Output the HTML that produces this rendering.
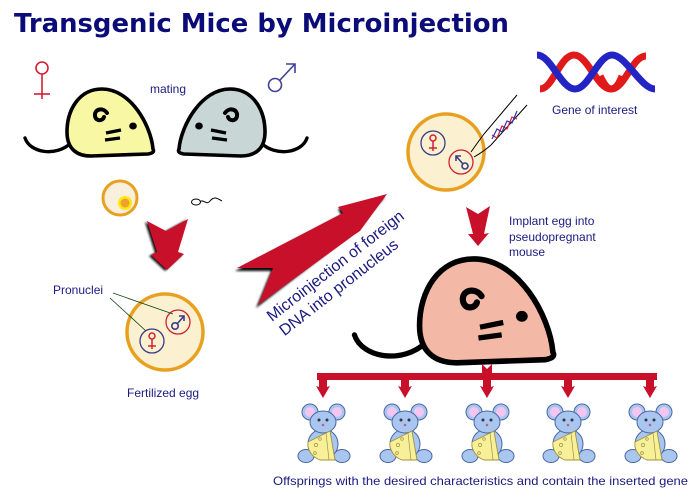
<!DOCTYPE html>
<html><head><meta charset="utf-8"><style>
html,body{margin:0;padding:0;background:#fff;}
svg{display:block;}
text{font-family:"Liberation Sans",Arial,sans-serif;fill:#1a1a80;}
</style></head><body>
<svg width="700" height="491" viewBox="0 0 700 491" xmlns="http://www.w3.org/2000/svg">
<defs>
<filter id="blur" x="-10%" y="-10%" width="120%" height="120%"><feGaussianBlur stdDeviation="1"/></filter>
<g id="mouse">
  <path d="M25,138 C30,153 56,157 71,143" fill="none" stroke="#000" stroke-width="3.4" stroke-linecap="round"/>
  <path d="M153,149 C151,126 131,89 102,89 C79,89 67,110 67,132 C67,149 77,156 91,156 L148,154 C154,153 154,151 153,149 Z" stroke="#000" stroke-width="3.6" stroke-linejoin="round"/>
  <path d="M107,113 C103,107 94,109 95,116 C96,122 103,121 104,117" fill="none" stroke="#000" stroke-width="4" stroke-linecap="round"/>
  <ellipse cx="133" cy="126" rx="3.8" ry="3.5" fill="#000"/>
  <line x1="106" y1="133" x2="121" y2="130" stroke="#000" stroke-width="3.4"/>
  <line x1="105" y1="140" x2="120" y2="138" stroke="#000" stroke-width="3.4"/>
</g>
<g id="baby">
  <circle cx="-13" cy="412" r="8" fill="#a8c6f0" stroke="#4a68a0" stroke-width="1"/>
  <circle cx="-13" cy="412" r="5" fill="#f2c6f0"/>
  <circle cx="14" cy="412" r="8" fill="#a8c6f0" stroke="#4a68a0" stroke-width="1"/>
  <circle cx="14" cy="412" r="5" fill="#f2c6f0"/>
  <ellipse cx="0" cy="444" rx="15" ry="15" fill="#a8c6f0" stroke="#4a68a0" stroke-width="1"/>
  <ellipse cx="-17" cy="456" rx="8" ry="6.5" fill="#a8c6f0" stroke="#4a68a0" stroke-width="1"/>
  <ellipse cx="19" cy="456" rx="8" ry="6.5" fill="#a8c6f0" stroke="#4a68a0" stroke-width="1"/>
  <ellipse cx="0" cy="422" rx="13" ry="11" fill="#a8c6f0" stroke="#4a68a0" stroke-width="1"/>
  <circle cx="-4" cy="420" r="1.5" fill="#334"/>
  <circle cx="4" cy="420" r="1.5" fill="#334"/>
  <circle cx="0" cy="425" r="1.3" fill="#c06080"/>
  <path d="M-15,442 L7,431 L12,460 L-3,460 C-11,457 -16,450 -15,442 Z" fill="#f8f098" stroke="#a09040" stroke-width="0.9"/>
  <line x1="3" y1="433" x2="6" y2="460" stroke="#a09040" stroke-width="0.7"/>
  <circle cx="-7" cy="445" r="1.6" fill="none" stroke="#a09040" stroke-width="0.7"/>
  <circle cx="-8" cy="453" r="1.4" fill="none" stroke="#a09040" stroke-width="0.7"/>
  <circle cx="-3" cy="439" r="1.3" fill="none" stroke="#a09040" stroke-width="0.7"/>
</g>
</defs>

<!-- Title -->
<text x="14" y="32" textLength="495" lengthAdjust="spacingAndGlyphs" style="font-family:'DejaVu Sans','Liberation Sans',sans-serif;font-weight:bold;font-size:26px;fill:#0c0c78;">Transgenic Mice by Microinjection</text>

<!-- female symbol -->
<g stroke="#d02034" stroke-width="1.6" fill="none">
  <circle cx="42" cy="68" r="6"/>
  <line x1="42" y1="74" x2="42" y2="99"/>
  <line x1="34" y1="94" x2="50" y2="94"/>
</g>
<!-- male symbol -->
<g stroke="#40409a" stroke-width="1.6" fill="none">
  <circle cx="275" cy="85" r="6.5"/>
  <line x1="280" y1="80" x2="295" y2="64"/>
  <polyline points="286,64 295,64 295,73"/>
</g>
<text x="150" y="93" font-size="12">mating</text>

<!-- parent mice -->
<use href="#mouse" fill="#f8f8a4"/>
<use href="#mouse" fill="#c8d6d6" transform="translate(332,0) scale(-1,1)"/>

<!-- egg and sperm -->
<circle cx="120" cy="198" r="17" fill="#f8f0dc" stroke="#e8a020" stroke-width="3"/>
<circle cx="125" cy="203" r="7" fill="#ffe810"/>
<circle cx="125" cy="203" r="4.5" fill="#f0a030"/>
<ellipse cx="196" cy="202" rx="4.5" ry="3" fill="none" stroke="#000" stroke-width="1"/>
<path d="M200,202 C203,198 206,206 210,201 S217,198 222,201" fill="none" stroke="#000" stroke-width="1"/>

<!-- left down arrow -->
<polygon points="145,222 164,232 186,220 176,253 182,255 165,271 149,256 155,253" fill="#111" filter="url(#blur)"/>
<polygon points="147,221 166,231 188,219 178,252 184,254 167,270 151,255 157,252" fill="#c8102a"/>

<!-- fertilized egg -->
<circle cx="165" cy="332" r="38" fill="#fbf1d0" stroke="#e8a020" stroke-width="3.5"/>
<circle cx="152" cy="341" r="12" fill="none" stroke="#3a3a8a" stroke-width="1.3"/>
<g stroke="#d02034" stroke-width="1.5" fill="none">
  <circle cx="152" cy="336" r="3"/>
  <line x1="152" y1="339" x2="152" y2="349"/>
  <line x1="148" y1="346" x2="156" y2="346"/>
</g>
<circle cx="178" cy="322" r="12" fill="none" stroke="#d02034" stroke-width="1.3"/>
<g stroke="#3a3a8a" stroke-width="1.6" fill="none">
  <circle cx="175" cy="326" r="3.2"/>
  <line x1="177" y1="324" x2="184" y2="316"/>
  <polyline points="179,316 184,316 184,321"/>
</g>
<text x="53" y="294" font-size="12">Pronuclei</text>
<g stroke="#0a400a" stroke-width="0.8">
  <line x1="113" y1="293" x2="173" y2="314"/>
  <line x1="110" y1="298" x2="146" y2="331"/>
</g>
<text x="127" y="397" font-size="12">Fertilized egg</text>

<!-- big diagonal arrow -->
<polygon points="385,197 338,209 341,215 235,271 271,271 256,308 350,236 356,230" fill="#111" filter="url(#blur)"/>
<polygon points="387,194 338,207 343,213 237,268 273,268 258,305 354,235 360,231" fill="#c8102a"/>

<!-- rotated text -->
<g transform="translate(272,322) rotate(-38)">
  <text x="0" y="0" font-size="16">Microinjection of foreign</text>
  <text x="1" y="19" font-size="16">DNA into pronucleus</text>
</g>

<!-- DNA helix -->
<path d="M540,89 C553,89 560,55 574,55 C588,55 597,89 611,89 C625,89 632,56 646,56" fill="none" stroke="#e01a1a" stroke-width="7"/>
<path d="M537,55 C551,55 561,89 575,89 C589,89 598,55 612,55 C626,55 641,89 655,89" fill="none" stroke="#2424c4" stroke-width="7"/>
<path d="M600,76 C604,84 607,89 611,89 C616,89 619,84 622,76" fill="none" stroke="#e01a1a" stroke-width="7"/>
<text x="552" y="114" font-size="12">Gene of interest</text>

<!-- top right egg -->
<circle cx="446" cy="152" r="38" fill="#fbf1d0" stroke="#e8a020" stroke-width="3.5"/>
<circle cx="433" cy="143" r="12" fill="none" stroke="#3a3a8a" stroke-width="1.3"/>
<g stroke="#d02034" stroke-width="1.5" fill="none">
  <circle cx="433" cy="138" r="3"/>
  <line x1="433" y1="141" x2="433" y2="151"/>
  <line x1="429" y1="148" x2="437" y2="148"/>
</g>
<circle cx="461" cy="162" r="12" fill="none" stroke="#d02034" stroke-width="1.3"/>
<g stroke="#3a3a8a" stroke-width="1.6" fill="none">
  <circle cx="465" cy="166" r="3"/>
  <line x1="463" y1="164" x2="456" y2="156"/>
  <polyline points="456,161 456,156 461,156"/>
</g>
<!-- pipette -->
<g stroke="#000" stroke-width="1" fill="none">
  <path d="M517,95 L484,134 Q478,142 471,152"/>
  <path d="M527,105 L491,145 Q483,152 474,157"/>
</g>
<polyline points="492,135 497,138 502,126 507,129 512,117 517,119" fill="none" stroke="#d02030" stroke-width="1.2"/>
<polyline points="492,139 497,129 502,132 507,121 512,123 517,111" fill="none" stroke="#3030b0" stroke-width="1.2"/>

<!-- right down arrow -->
<polygon points="466,207 478,214 490,206 484,234 489,233 478,246 468,234 473,234" fill="#c8102a"/>
<text x="509" y="225" font-size="12">Implant  egg  into</text>
<text x="509" y="241" font-size="12">pseudopregnant</text>
<text x="509" y="256" font-size="12">mouse</text>

<!-- pink mouse -->
<use href="#mouse" fill="#f4b8a6" transform="translate(315.7,121) scale(1.55)"/>

<!-- distribution bar -->
<polygon points="482,364 487,369 492,364 492,374 482,374" fill="#c8102a"/>
<rect x="317" y="373" width="340" height="7" fill="#c8102a"/>
<g fill="#c8102a">
  <polygon points="319,380 327,380 327,387 330,386 323,398 316,386 319,387"/>
  <polygon points="401,380 409,380 409,387 412,386 405,398 398,386 401,387"/>
  <polygon points="483,380 491,380 491,387 494,386 487,398 480,386 483,387"/>
  <polygon points="564,380 572,380 572,387 575,386 568,398 561,386 564,387"/>
  <polygon points="646,380 654,380 654,387 657,386 650,398 643,386 646,387"/>
</g>

<!-- baby mice -->
<use href="#baby" transform="translate(323,0)"/>
<use href="#baby" transform="translate(405,0)"/>
<use href="#baby" transform="translate(487,0)"/>
<use href="#baby" transform="translate(568,0)"/>
<use href="#baby" transform="translate(650,0)"/>

<text x="273" y="485" font-size="12" textLength="415" lengthAdjust="spacingAndGlyphs">Offsprings with the desired characteristics and contain the inserted gene</text>
</svg>
</body></html>
